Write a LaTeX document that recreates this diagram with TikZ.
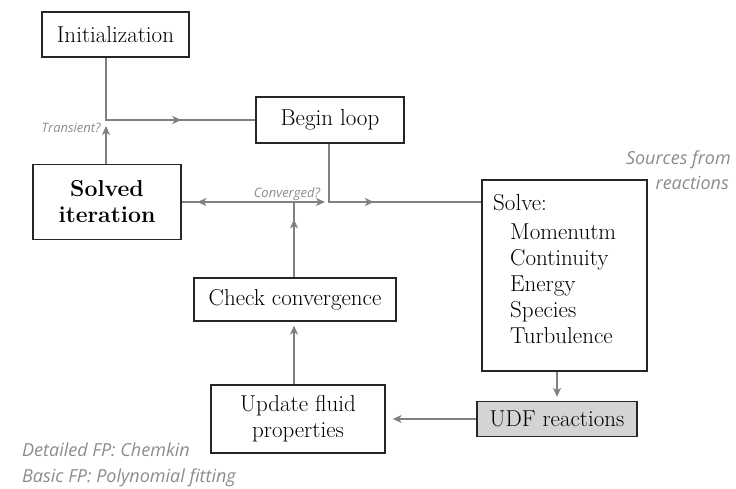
\documentclass[tikz,border=0pt]{standalone}
\usepackage{fontspec}
\newfontfamily\notefont{Open Sans}
\usetikzlibrary{positioning,arrows.meta,decorations.markings}

\tikzset{
  box/.style={draw=black!85, line width=1.3pt, fill=white, align=center,
    inner sep=2pt, font=\fontsize{23}{26}\selectfont},
  flow/.style={draw=black!50, line width=1.3pt},
  tip/.style={-{Stealth[length=9pt,width=8pt,inset=2.5pt]}},
  midarrow/.style={postaction={decorate}, decoration={markings,
    mark=at position #1 with {\arrow{Stealth[length=9pt,width=8pt,inset=2.5pt]}}}},
  note/.style={text=black!45, inner sep=0pt, font=\notefont\itshape#1},
  note/.default={\fontsize{13}{15}\selectfont},
  plain/.style={inner sep=0pt, font=\fontsize{23}{25.8}\selectfont, align=left},
}

\begin{document}
\begin{tikzpicture}[x=1pt,y=-1pt]
  \useasboundingbox (0,0) rectangle (736,489);

  % boxes
  \node[box, minimum width=147, minimum height=45] (init) at (115.5,34.5) {Initialization};
  \node[box, minimum width=148, minimum height=46] (loop) at (330,120) {Begin loop};
  \node[box, minimum width=148, minimum height=75, font=\fontsize{23}{26}\selectfont\bfseries] (solved) at (107,202) {Solved\\iteration};
  \node[box, minimum width=165, minimum height=191] (solve) at (564.5,275.5) {};
  \node[box, minimum width=202, minimum height=43] (check) at (295,299.5) {Check convergence};
  \node[box, minimum width=174, minimum height=68] (update) at (298,419) {Update fluid\\properties};
  \node[box, fill=black!17, minimum width=160, minimum height=35] (udf) at (557,419) {UDF reactions};

  % inside the solve box
  \node[plain, anchor=west] (solvehead) at (493,203) {Solve:};
  \node[plain, anchor=north west] (solvelist) at (510,224) {Momenutm\\Continuity\\Energy\\Species\\Turbulence};

  % junctions
  \coordinate (split) at (106,120);
  \coordinate (transtip) at (106,126);
  \coordinate (conv) at (294,202);
  \coordinate (convtip) at (325,202);
  \coordinate (drop) at (329,202);

  % connectors
  \draw[flow, midarrow=0.65] (split |- init.south) -- (split) -- (loop.west);
  \draw[flow, tip] (solved.north -| split) -- (transtip);
  \draw[flow, tip] (conv) -- (convtip);
  \draw[flow, midarrow=0.86] (conv) -- (solved.east);
  \draw[flow, midarrow=0.77] (check.north -| conv) -- (conv);
  \draw[flow, midarrow=0.49] (loop.south -| drop) -- (drop) -- (solve.west |- drop);
  \draw[flow, tip, shorten >=4pt] (udf.north |- solve.south) -- (udf.north);
  \draw[flow, tip, shorten >=7pt] (udf.west) -- (update.east);
  \draw[flow, tip, shorten >=4pt] (update.north -| conv) -- (check.south -| conv);

  % notes
  \node[note, anchor=east] (transient) at (101,128) {Transient?};
  \node[note, anchor=south] (converged) at (287,201) {Converged?};
  \node[note={\fontsize{18}{22}\selectfont}, anchor=east] (sourcesa) at (731,160) {Sources from};
  \node[note={\fontsize{18}{22}\selectfont}, anchor=east] (sourcesb) at (729,183) {reactions};
  \node[note={\fontsize{18}{22}\selectfont}, anchor=west] (fpdetail) at (22,450) {Detailed FP: Chemkin};
  \node[note={\fontsize{18}{22}\selectfont}, anchor=west] (fpbasic) at (22,478) {Basic FP: Polynomial fitting};
\end{tikzpicture}
\end{document}
